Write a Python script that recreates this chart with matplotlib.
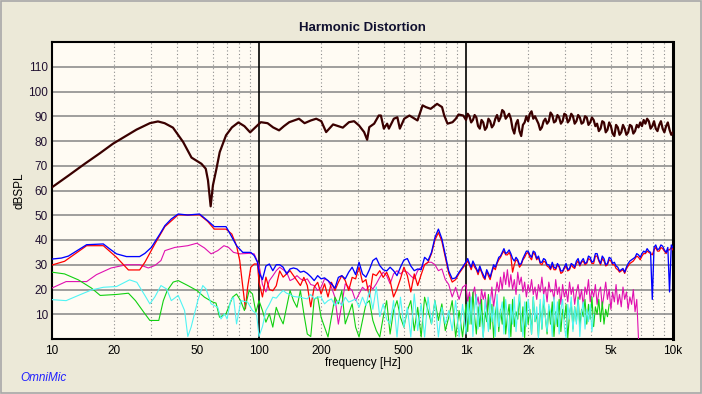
import numpy as np
import matplotlib.pyplot as plt
from matplotlib.patches import Rectangle

plt.rcParams['font.family'] = ['Liberation Sans', 'DejaVu Sans']

# measurement bins: 60 per decade from 100 Hz to 1 kHz, 120 per decade above
f_mid = np.geomspace(100, 1000, 61)[:-1]
f_hi = np.geomspace(1000, 10000, 121)

# fundamental, smooth part read as (Hz, dB) pairs
fund_f = [10, 12, 14.4, 17, 19.7, 22, 25.6, 29.7, 32.5, 35, 38.4, 43, 47.2, 52.7,
          55.3, 56.7, 58.4, 59.9, 62.3, 64.6, 69.3, 74, 79.5, 85, 90.6, 96, 102,
          110, 117, 125, 132, 140, 156, 166, 178, 189, 200, 211, 228, 254, 272,
          288, 304, 322, 333, 341, 360, 379, 388, 401, 416, 424, 448, 466, 479,
          503, 533, 550, 583, 617, 640, 675, 700, 725, 766, 785, 814, 861, 893,
          920, 970]
fund_db = [61.3, 66, 70.8, 75, 78.9, 81.3, 84.6, 87.2, 87.9, 87.2, 85.4, 79.6, 73.3,
           70.8, 68.8, 64.1, 53.6, 62.1, 68.8, 75.5, 82.3, 85.5, 87.5, 86, 83.5,
           85.5, 87.6, 87.2, 85.5, 84.3, 86, 87.6, 89, 87.2, 88.3, 89, 88, 83.6,
           86.7, 85.4, 87.6, 88, 86.3, 83.6, 80.5, 85.6, 87, 90.3, 90.3, 85, 87,
           85, 89, 89.6, 85, 89, 90.3, 89.6, 88.3, 94.4, 93.7, 93, 94, 95, 93.7,
           90.3, 87, 87.6, 89, 90.7, 90.3]
# fundamental on f_hi
fund_hi = [88.5, 91, 90, 87.5, 88.5, 90.5, 89.5, 86, 85, 88.5,
           87.5, 84.5, 85.5, 89, 88, 85.5, 86.5, 89, 90.5, 88,
           89.5, 92.5, 91.8, 89, 90, 91, 89, 85, 83, 87,
           88.5, 84, 82, 86.5, 87.5, 90, 88, 91, 92, 89,
           90, 88.5, 87, 84.5, 85.5, 88, 89, 87, 88, 91.5,
           90.5, 87.5, 88, 90.5, 89.5, 87, 88, 91, 90.5, 87.5,
           88.5, 91, 90, 87, 88, 90.5, 89.5, 87, 87.5, 90,
           89.5, 86.5, 87.5, 89.5, 88.5, 86, 87, 84, 85, 88,
           87.5, 83.5, 84.5, 87.5, 86, 83, 82, 86.5, 85.5, 82.5,
           83.5, 86.5, 85, 82.5, 83.5, 86.5, 86, 83, 84, 86.5,
           85.5, 87.5, 86, 88.5, 87, 89, 88, 85, 86, 88,
           85, 84, 86.5, 88, 85, 83.5, 86, 87.5, 84.5, 82.5, 83.5]

# harmonics below 100 Hz, (Hz, dB) pairs
blue_f = [10, 11.1, 12, 13.4, 14.7, 17.7, 19, 20.5, 22.9, 26.5, 28.1, 30.2, 33.2,
          35.1, 37.7, 40.7, 45.3, 51.6, 56.5, 60.8, 69.3, 72.6, 77.9, 83.5, 91.3,
          94.8, 98.3]
blue_db = [32.3, 32.7, 33.5, 36, 38.1, 38.4, 36.4, 34.4, 33.3, 33.3, 34.6, 37, 42.4,
           45.8, 48.5, 50.5, 50.1, 50.5, 47.8, 45.4, 45.4, 42.4, 37.7, 35, 35, 33.7, 31]

red_f = [10, 11.5, 14.7, 17.7, 20.5, 23.4, 26.5, 28.1, 31.4, 35.1, 40.7, 45.3, 51.6,
         56.5, 60.8, 69.3, 73.9, 77.9, 80.7, 83, 86, 88.1, 91.3, 94.8, 98.3]
red_db = [29.9, 31.4, 37.7, 37.7, 33, 27.9, 27.9, 31, 38.4, 45.4, 50.2, 50.1, 50.2,
          47.5, 44.4, 44.4, 42.4, 37.7, 31.7, 22.9, 12.2, 20.9, 29, 30.3, 30.3]

mag_f = [10, 11.7, 14.7, 16.4, 19.3, 22.9, 26.5, 29.2, 31.4, 33.6, 35.1, 39.2, 45.3,
         50.1, 54.5, 58.7, 63.2, 67.7, 71.3, 75.3, 80.7, 89.6, 94.8, 97.5]
mag_db = [20.6, 23.2, 23.2, 26, 28.7, 30, 30, 28.7, 29.7, 31.7, 35.7, 37, 37.7,
          38.7, 36.8, 34.4, 35.7, 37.7, 37, 35, 34.4, 34.6, 34.4, 32]

green_f = [10, 11.5, 13.4, 15.5, 17.1, 20.5, 23.4, 25.3, 28.1, 29.7, 32.8, 34.5, 36,
           38.5, 40.7, 45.3, 50.1, 54.5, 59.8, 62, 64.5, 69.3, 74.5, 77.9, 81.5,
           85, 89.6, 93, 96.6]
green_db = [27, 26.3, 23.9, 20.6, 17.6, 18, 18.5, 15.5, 10.2, 7.5, 7.5, 15.5, 19.5,
            23, 23.6, 21.6, 19.6, 16.9, 14.9, 14.5, 8.8, 10.2, 16.9, 18.2, 15.5,
            11.5, 19.6, 18.2, 10.8]

cyan_f = [10, 11.7, 13.4, 15.5, 17.7, 20.5, 23.7, 25.7, 28.1, 29.7, 31.4, 33.6, 35.8,
          37.7, 40.7, 43.7, 45.3, 47, 50.6, 53.5, 55.5, 58.7, 63.2, 65.5, 68.2,
          70.1, 72.9, 75.3, 77.9, 81.8, 88.1, 93, 97.3]
cyan_db = [15.9, 15.5, 17.6, 19.8, 20.9, 21.2, 23.9, 22.9, 17.6, 14.2, 17, 21.6, 20.2,
           15.5, 17.6, 11.5, 1, 4.8, 15.5, 21.6, 20.2, 14.2, 12.8, 8.1, 10.2, 8.1,
           15.5, 16.9, 6.1, 15.5, 14.9, 11.5, 10.2]

# harmonics on f_mid (100 Hz .. 1 kHz)
blue_mid = [27, 24, 29.5, 30.3, 27.6, 30, 30, 29, 26.3, 28.3,
            28.7, 28.3, 27, 27.4, 26.5, 25.2, 23.6, 25.6, 24.3, 24.7,
            23.6, 22.3, 20.5, 24.9, 25.6, 24.3, 27, 29, 26, 31,
            26.3, 25, 28, 31.7, 32.7, 29.7, 28, 27.5, 29, 27.6,
            25.6, 29, 31.9, 32.5, 29.5, 27.6, 28.3, 28, 33, 31.7,
            35, 41, 44.4, 40.5, 34, 27.5, 24.3, 24.7, 27, 29]
red_mid = [23, 17, 25, 20, 19.5, 21.5, 27.5, 25, 26.3, 27.6,
           25.6, 23.6, 21.6, 24.9, 21.6, 13, 21, 22.9, 18.2, 22.3,
           17, 22.9, 19.6, 22.9, 25.6, 23.6, 19.6, 24.9, 24.3, 29,
           22.9, 24, 17, 26.3, 25.6, 27.6, 24.9, 27, 23.6, 17,
           20.2, 24.3, 29, 25.6, 19, 26.3, 21.6, 26, 30, 31,
           34.5, 40, 43, 39.5, 33, 26.5, 23, 24, 26.5, 28.5]
mag_mid = [30, 22, 19, 23.6, 25.5, 27.6, 29, 28, 27, 23.6,
           24.3, 25.6, 24.3, 23.6, 24.3, 22, 21.6, 19.6, 20.9, 24.3,
           23.6, 20.9, 16.9, 6, 14.2, 22.3, 20.9, 19.6, 15.5, 18.2,
           20.9, 19.6, 21.6, 20.2, 22.3, 24.9, 27, 25.6, 22.3, 26.3,
           27.6, 26.3, 27.6, 27, 25.5, 24.3, 27.6, 29, 30, 31,
           31, 30, 27.6, 28.3, 24, 22, 17, 20.9, 16, 20.9]
green_mid = [15.5, 11.5, 6.8, 10.2, 4.8, 12.8, 9, 6.1, 12.8, 19.6,
             15.5, 12.8, 19.6, 10.2, 2, 1, 16, 17, 8.8, 4.8,
             0.8, 8.8, 16.9, 14.2, 19.6, 6.1, 10.2, 14.2, 4.8, 0.8,
             7.5, 14.2, 15.5, 7.5, 3.4, 0.8, 8.8, 15.5, 2, 11.5,
             15.5, 8.8, 4.8, 11.5, 15.5, 3.4, 12.8, 0.8, 16.9, 11.5,
             6.1, 15.5, 7.5, 14.2, 3.4, 8.8, 15.5, 0.8, 11.5, 0.8]
cyan_mid = [1, 5, 11.5, 14, 16.9, 16.5, 18.2, 19.6, 18.5, 18,
            17.2, 17, 16.9, 16.5, 16.2, 18, 16.2, 17, 16.9, 14.2,
            15.5, 16.2, 13.5, 15.5, 13.5, 16.9, 14.9, 15.5, 16.2, 12.8,
            16.9, 13.5, 19.6, 12, 21, 9, 14.2, 8, 6.1, 15.5,
            0.8, 16.9, 4.8, 12.8, 0.8, 18.2, 3.4, 14.2, 0.8, 16.9,
            6.1, 15.5, 0.8, 12.8, 6.1, 11.5, 3.4, 15.5, 0.8, 14]

# harmonics on f_hi (1 kHz up to where each trace ends)
blue_hi = [31.2, 32.5, 30.5, 29, 31.5, 30, 28.5, 27, 29.5, 27.5,
           26, 24.5, 28, 26.5, 25, 27.5, 30, 29, 31, 33,
           33.5, 35, 36.5, 34.5, 35, 36, 34.5, 32.5, 31.5, 33,
           32, 30, 30.5, 32.5, 34, 35.5, 35.5, 34, 33, 35.5,
           35, 32.5, 33.5, 31, 31, 32.5, 32, 30, 30, 28.5,
           31, 29, 28.5, 30.5, 29.5, 27.5, 27.5, 29, 30.5, 28,
           28.5, 30.5, 30, 29, 31.5, 32.5, 30, 31.5, 32.5, 30.5,
           31, 33.5, 33, 31, 31.5, 34.5, 34.5, 32, 30.5, 33.5,
           32.5, 30, 30.5, 33, 32.5, 30.5, 31, 29.5, 29, 27.5,
           28, 28.5, 27, 29, 30.5, 31.5, 32, 32.5, 33, 34.5,
           34, 33, 34.5, 35.5, 35, 36.5, 35.5, 35, 16, 37,
           38, 36, 36.5, 38, 37.5, 36, 35, 37, 19, 38, 37]
red_hi = [30.5, 31.5, 30, 28, 30.5, 29, 28, 26, 28.5, 27,
          25, 24, 27.5, 25.5, 24, 27, 29, 28, 30.5, 32,
          33, 34.5, 35.5, 34, 34, 35, 33.5, 27, 30, 32,
          31.5, 29, 30, 32, 33, 34.5, 35, 33, 32, 35,
          34, 32, 33, 30.5, 30, 31.5, 31, 29.5, 29, 28,
          30, 28, 28, 30, 29, 26.5, 27, 28.5, 29.5, 27.5,
          28, 30, 29, 28.5, 30.5, 31.5, 29.5, 31, 31.5, 30,
          30.5, 32.5, 32, 30.5, 30.5, 33.5, 33.5, 31.5, 30, 32.5,
          31.5, 29.5, 30, 32, 31.5, 30, 30, 28.5, 28, 27,
          27.5, 28, 26.5, 28.5, 29.5, 30.5, 31, 31.5, 32.5, 33.5,
          33, 32, 33.5, 34.5, 34.5, 35.5, 35, 34.5, 34, 36,
          37, 35.5, 35.5, 37, 36.5, 35.5, 34.5, 36, 36, 37, 36]
mag_hi = [22, 15, 19, 13, 18, 21, 14, 17, 12, 20,
          16, 19, 11, 17, 14, 21, 13, 18, 23, 19,
          25, 20, 27, 22, 28, 21, 26, 20, 24, 18,
          27, 22, 25, 19, 23, 17, 22, 19, 24, 18,
          21, 16, 22, 19, 25, 18, 21, 15, 23, 19,
          20, 16, 24, 18, 21, 14, 22, 17, 20, 15,
          23, 18, 21, 14, 19, 22, 16, 20, 13, 21,
          18, 24, 15, 20, 17, 22, 14, 19, 21, 13,
          18, 23, 16, 20, 12, 19, 15, 22, 14, 18,
          13, 21, 16, 19, 12, 17, 14, 20, 11, 16, 0]
green_hi = [14, 3, 17, 6, 19, 9, 2, 13, 5, 16,
            1, 11, 7, 18, 4, 14, 0.5, 10, 15, 3,
            12, 6, 17, 2, 9, 14, 1, 16, 5, 11,
            8, 18, 3, 13, 0.5, 15, 6, 12, 2, 17,
            7, 10, 1, 14, 4, 16, 9, 2, 13, 6,
            15, 1, 11, 5, 16, 3, 12, 8, 14, 0.5,
            10, 15, 4, 13, 7, 17, 5, 12, 9, 16,
            6, 14, 8, 17, 5, 13, 10, 16, 7, 15,
            6, 12, 9, 14]
cyan_hi = [2, 15, 6, 17, 1, 12, 18, 4, 14, 8,
           0.5, 16, 10, 3, 17, 7, 13, 1, 18, 5,
           11, 15, 2, 16, 9, 0.5, 14, 6, 17, 3,
           12, 18, 8, 1, 15, 5, 16, 10, 2, 17,
           7, 13, 0.5, 16, 4, 18, 9, 3, 14, 11,
           1, 17, 6, 15, 2, 12, 16, 5, 0.5, 14,
           8, 17, 3, 13, 6, 16, 1, 11, 15, 4,
           12, 7, 14, 3, 10]

xtick_pos = [10, 20, 50, 100, 200, 500, 1000, 2000, 5000, 10000]
xtick_lab = ['10', '20', '50', '100', '200', '500', '1k', '2k', '5k', '10k']


def trace(f_lo, db_lo, db_mid, db_hi):
    f = list(f_lo) + list(f_mid[:len(db_mid)]) + list(f_hi[:len(db_hi)])
    return f, list(db_lo) + list(db_mid) + list(db_hi)


fig = plt.figure(figsize=(7.02, 3.94), dpi=100, facecolor='#ece9d8')
fig.add_artist(Rectangle((0.001, 0.002), 0.997, 0.996, transform=fig.transFigure,
                         fill=False, edgecolor='#a8a8a8', lw=1.2))
ax = fig.add_axes([52 / 702, 55 / 394, 621 / 702, 297 / 394])
ax.set_facecolor('#fffbf3')

ax.set_xscale('log')
ax.set_xlim(10, 10000)
ax.set_ylim(0, 120)

# grid: grey horizontals, dotted minor verticals, black decade lines
for y in range(10, 120, 10):
    ax.axhline(y, color='#858585', lw=1.1, zorder=1)
for dec in [10, 100, 1000]:
    for m in range(2, 10):
        ax.axvline(dec * m, color='#8c8c8c', lw=0.8, ls=(0, (1, 2.2)), zorder=1)
for dec in [100, 1000]:
    ax.axvline(dec, color='black', lw=1.2, zorder=1)

ax.plot(*trace(mag_f, mag_db, mag_mid, mag_hi), color='#e010b0', lw=0.8, zorder=3)
ax.plot(*trace(red_f, red_db, red_mid, red_hi), color='#ff0000', lw=0.9, zorder=3)
ax.plot(*trace(green_f, green_db, green_mid, green_hi), color='#10d010', lw=0.8, zorder=3)
ax.plot(*trace(cyan_f, cyan_db, cyan_mid, cyan_hi), color='#50f4f4', lw=0.8, zorder=3)
ax.plot(*trace(blue_f, blue_db, blue_mid, blue_hi), color='#0000ff', lw=0.95, zorder=4)
ax.plot(*trace(fund_f, fund_db, [], fund_hi), color='#3a0000', lw=1.6, zorder=5)

ax.set_xticks(xtick_pos)
ax.set_xticklabels(xtick_lab)
ax.xaxis.set_minor_locator(plt.NullLocator())
ax.set_yticks(range(10, 120, 10))
ax.tick_params(axis='both', length=0, labelsize=8.5, pad=4)
ax.tick_params(axis='y', labelcolor='#201030', pad=3)

for side in ['top', 'left', 'bottom']:
    ax.spines[side].set_linewidth(1.5)
ax.spines['right'].set_linewidth(2.2)

ax.set_xlabel('frequency [Hz]', fontsize=8.5, labelpad=0)
ax.set_ylabel('dBSPL', fontsize=8.5, labelpad=2)

fig.text(0.5 * (52 + 673) / 702, 1 - 28 / 394, 'Harmonic Distortion', ha='center',
         va='center', fontsize=9.5, fontweight='bold', color='#101030')
fig.text(20 / 702, 1 - 378 / 394, 'OmniMic', ha='left', va='center', fontsize=8.5,
         style='italic', color='#2020ff')

fig.savefig('out.png', dpi=100, facecolor=fig.get_facecolor())
